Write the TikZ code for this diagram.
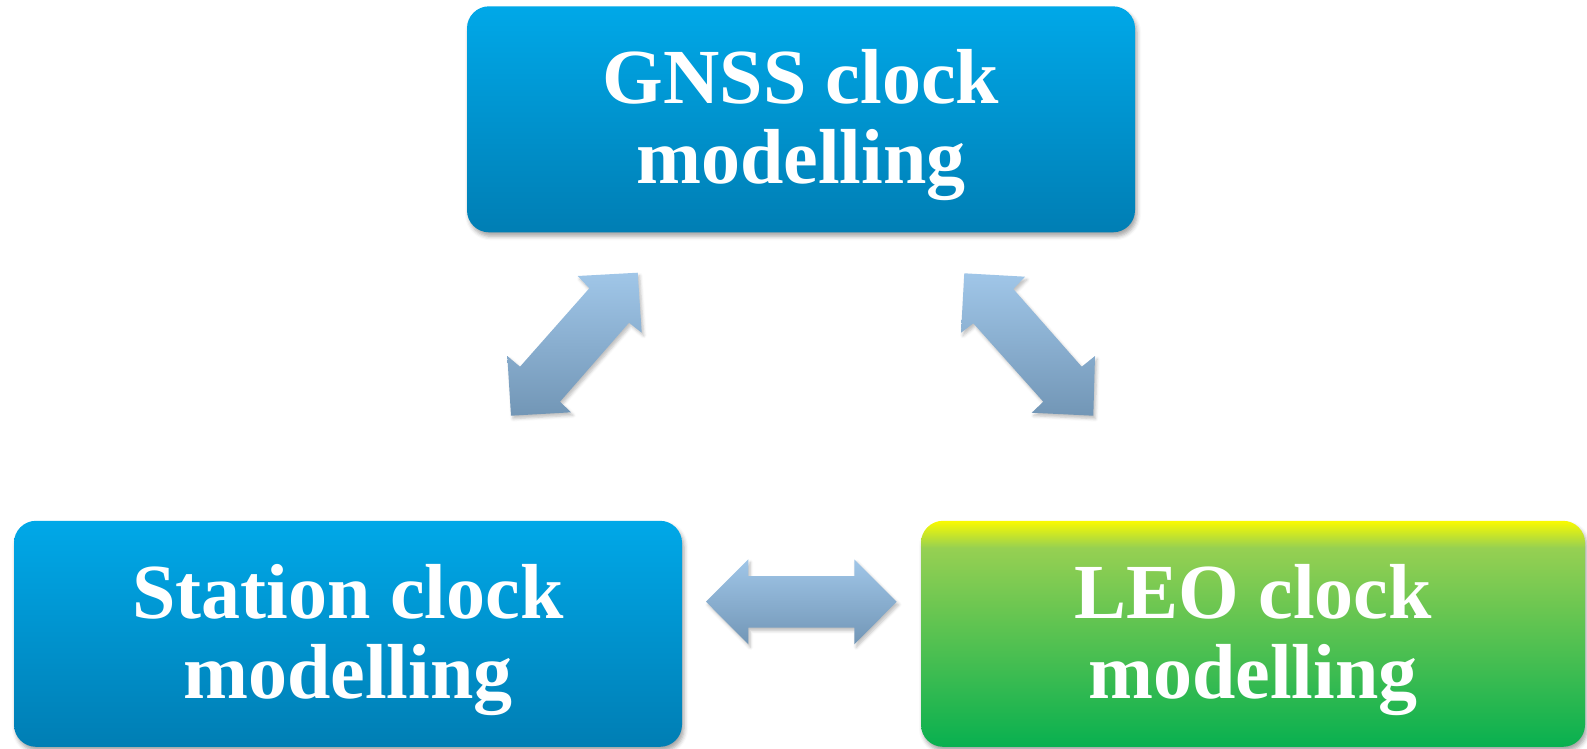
\documentclass[tikz,border=0pt]{standalone}
\usepackage{fontspec}
\setmainfont{Liberation Serif}
\usetikzlibrary{shadows.blur}
\definecolor{bluetop}{RGB}{0,168,232}
\definecolor{bluebot}{RGB}{0,126,180}
\definecolor{arrtop}{RGB}{160,198,232}
\definecolor{arrbot}{RGB}{114,150,182}
\definecolor{yel}{RGB}{250,250,0}
\definecolor{grnmid}{RGB}{150,208,82}
\definecolor{grnbot}{RGB}{8,176,80}
\pgfdeclareverticalshading{leogreen}{100bp}{color(0bp)=(grnbot); color(25bp)=(grnbot); color(69bp)=(grnmid); color(75bp)=(yel); color(100bp)=(yel)}
\tikzset{
  boxbase/.style={rectangle, rounded corners=22pt, inner sep=0pt, outer sep=0pt,
    minimum width=668pt, minimum height=226pt,
    blur shadow={shadow xshift=2pt, shadow yshift=-4pt, shadow blur radius=4pt, shadow opacity=35}},
  bluebox/.style={boxbase, top color=bluetop, bottom color=bluebot},
  greenbox/.style={boxbase, shading=leogreen},
  boxtext/.style={text=white, align=center, inner sep=0pt,
    font=\fontsize{78}{80}\selectfont\bfseries},
  blockarrow/.style={top color=arrtop, bottom color=arrbot, draw=none,
    blur shadow={shadow xshift=2pt, shadow yshift=-3pt, shadow blur radius=3pt, shadow opacity=25}}
}
\begin{document}
\begin{tikzpicture}[x=1pt,y=-1pt]
\useasboundingbox (0,0) rectangle (1587,748);
\node[bluebox] (gnss) at (801,119.3) {};
\node[bluebox] (station) at (348,633.8) {};
\node[greenbox, minimum width=664pt] (leo) at (1253,633.8) {};
\node[boxtext] (gnsstext) at ([yshift=-6pt]gnss.center) {GNSS clock\\modelling};
\node[boxtext] (stationtext) at ([yshift=-6pt]station.center) {Station clock\\modelling};
\node[boxtext] (leotext) at ([yshift=-6pt]leo.center) {LEO clock\\modelling};
% left diagonal arrow
\path[blockarrow] (637.7,272.7) -- (577.7,276) -- (589.3,288.3) -- (520,366.7) -- (507.3,356)
  -- (511,415.7) -- (571,412.3) -- (560,401.7) -- (629,322.7) -- (641.7,332.7) -- cycle;
% right diagonal arrow
\path[blockarrow] (964.3,273.3) -- (1025,276.7) -- (1013.3,289) -- (1081.7,366.7) -- (1095,356)
  -- (1093.3,415.7) -- (1031.7,412.7) -- (1043.3,401.7) -- (973.3,323.3) -- (961,332.7) -- cycle;
% horizontal arrow
\path[blockarrow] (706,601.7) -- (748.3,559.3) -- (748.3,576) -- (854.3,576) -- (854.3,559.3)
  -- (896.7,601.7) -- (854.3,644.3) -- (854.3,627.7) -- (748.3,627.7) -- (748.3,644.3) -- cycle;
\end{tikzpicture}
\end{document}
